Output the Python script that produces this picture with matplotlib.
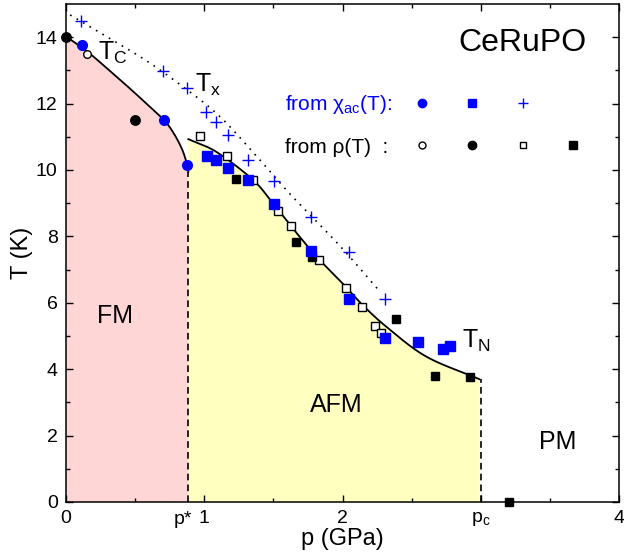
import numpy as np
import matplotlib.pyplot as plt

plt.rcParams['font.family'] = ['Liberation Sans', 'DejaVu Sans']
plt.rcParams['mathtext.fontset'] = 'custom'
plt.rcParams['mathtext.rm'] = 'Liberation Sans'
plt.rcParams['mathtext.it'] = 'Liberation Sans'

# T_C from chi_ac (blue circles)
tc_chi_p = [0.113, 0.71, 0.874]
tc_chi_T = [13.77, 11.51, 10.16]
# T_C from rho (open circles, filled circles)
tc_rho_open_p = [0.154]
tc_rho_open_T = [13.5]
tc_rho_full_p = [0.0, 0.50]
tc_rho_full_T = [14.02, 11.51]

# T_N from chi_ac (blue squares)
tn_chi_p = [1.017, 1.084, 1.173, 1.313, 1.503, 1.775, 2.045, 2.305, 2.546, 2.726, 2.775]
tn_chi_T = [10.43, 10.30, 10.07, 9.69, 8.98, 7.57, 6.11, 4.95, 4.81, 4.60, 4.71]
# T_N from rho (open squares, filled squares)
tn_rho_open_p = [0.970, 1.161, 1.353, 1.532, 1.626, 1.830, 2.028, 2.144, 2.235, 2.276]
tn_rho_open_T = [11.01, 10.41, 9.69, 8.78, 8.30, 7.29, 6.46, 5.88, 5.30, 5.10]
tn_rho_full_p = [1.233, 1.664, 1.782, 2.384, 2.666, 2.919, 3.203]
tn_rho_full_T = [9.73, 7.84, 7.37, 5.50, 3.80, 3.78, 0.0]

# T_x from chi_ac (blue plus)
tx_p = [0.108, 0.703, 0.872, 1.012, 1.084, 1.173, 1.313, 1.503, 1.775, 2.045, 2.305]
tx_T = [14.49, 12.99, 12.46, 11.74, 11.44, 11.04, 10.30, 9.67, 8.57, 7.54, 6.11]

# guide line vertices
tc_line_p = [0, 0.15, 0.3, 0.45, 0.6, 0.71, 0.78, 0.84, 0.875, 0.885]
tc_line_T = [14.02, 13.58, 13.05, 12.5, 11.93, 11.5, 11.1, 10.62, 10.18, 9.95]
tn_line_p = [0.885, 1.09, 1.353, 1.5, 1.69, 1.835, 2.0, 2.144, 2.317, 2.606, 2.99]
tn_line_T = [10.93, 10.54, 9.70, 8.98, 7.99, 7.29, 6.59, 5.94, 5.28, 4.38, 3.70]
tx_line_p = [0.03, 0.3, 0.56, 0.8, 1.09, 1.35, 1.62, 1.98, 2.27]
tx_line_T = [14.67, 14.0, 13.35, 12.65, 11.7, 10.55, 9.28, 7.72, 6.34]

p_star = 0.885
p_c = 3.0


def smooth(xs, ys, n=20):
    # Catmull-Rom curve through the vertices
    P = np.column_stack([xs, ys]).astype(float)
    P = np.vstack([2 * P[0] - P[1], P, 2 * P[-1] - P[-2]])
    t = np.linspace(0, 1, n, endpoint=False)[:, None]
    segs = []
    for i in range(1, len(P) - 2):
        p0, p1, p2, p3 = P[i - 1], P[i], P[i + 1], P[i + 2]
        segs.append(0.5 * (2 * p1 + (-p0 + p2) * t
                           + (2 * p0 - 5 * p1 + 4 * p2 - p3) * t ** 2
                           + (-p0 + 3 * p1 - 3 * p2 + p3) * t ** 3))
    segs.append(P[-2][None])
    c = np.vstack(segs)
    return c[:, 0], c[:, 1]


fig = plt.figure(figsize=(6.24, 5.6), dpi=100)
ax = fig.add_axes([66 / 624, 58 / 560, 553 / 624, 498 / 560])

tc_x, tc_y = smooth(tc_line_p, tc_line_T)
tn_x, tn_y = smooth(tn_line_p, tn_line_T)
tx_x, tx_y = smooth(tx_line_p, tx_line_T)

pink = '#FFD6D6'
yellow = '#FFFFC0'
ax.fill(np.r_[tc_x, tc_x[-1], tc_x[0]], np.r_[tc_y, 0, 0], color=pink, lw=0, zorder=0)
ax.fill(np.r_[tn_x, tn_x[-1], tn_x[0]], np.r_[tn_y, 0, 0], color=yellow, lw=0, zorder=0)

ax.plot(tc_x, tc_y, color='black', lw=1.3, zorder=2)
ax.plot(tn_x, tn_y, color='black', lw=1.3, zorder=2)
ax.plot(tx_x, tx_y, color='black', lw=1.2, ls=(0, (1, 3.5)), zorder=2)
ax.vlines(p_star, 0, tc_line_T[-1], colors='black', lw=1.2, linestyles=(0, (4, 2.5)), zorder=2)
ax.vlines(p_c, 0, tn_line_T[-1], colors='black', lw=1.2, linestyles=(0, (4, 2.5)), zorder=2)

kw = dict(ls='none', clip_on=False, zorder=3)
ax.plot(tn_rho_open_p, tn_rho_open_T, 's', ms=5.5, mfc='white', mec='black', mew=1, **kw)
ax.plot(tn_rho_full_p, tn_rho_full_T, 's', ms=6, color='black', **kw)
ax.plot(tn_chi_p, tn_chi_T, 's', ms=6.5, color='blue', **kw)
ax.plot(tc_rho_open_p, tc_rho_open_T, 'o', ms=5.5, mfc='white', mec='black', mew=1, **kw)
ax.plot(tc_rho_full_p, tc_rho_full_T, 'o', ms=6.8, color='black', **kw)
ax.plot(tc_chi_p, tc_chi_T, 'o', ms=7, color='blue', **kw)
ax.plot(tx_p, tx_T, '+', ms=8, mew=1, color='blue', **kw)

# legend-like rows
ax.text(1.582, 11.81, 'from χ$_{\\rm ac}$(T):', color='blue', fontsize=15)
ax.plot([2.577], [12.01], 'o', ms=6, color='blue', **kw)
ax.plot([2.938], [12.01], 's', ms=5.5, color='blue', **kw)
ax.plot([3.309], [12.01], '+', ms=7, mew=1, color='blue', **kw)
ax.text(1.582, 10.5, 'from ρ(T)  :', color='black', fontsize=15)
ax.plot([2.577], [10.76], 'o', ms=5, mfc='white', mec='black', mew=1, **kw)
ax.plot([2.938], [10.76], 'o', ms=6, color='black', **kw)
ax.plot([3.304], [10.76], 's', ms=5, mfc='white', mec='black', mew=1, **kw)
ax.plot([3.67], [10.76], 's', ms=5.5, color='black', **kw)

ax.text(3.30, 13.57, 'CeRuPO', fontsize=23, ha='center')
ax.text(0.231, 13.32, 'T$_{\\rm C}$', fontsize=18)
ax.text(0.932, 12.36, 'T$_{\\rm x}$', fontsize=18)
ax.text(2.864, 4.63, 'T$_{\\rm N}$', fontsize=18)
ax.text(0.358, 5.38, 'FM', fontsize=18, ha='center')
ax.text(1.952, 2.70, 'AFM', fontsize=18, ha='center')
ax.text(3.553, 1.59, 'PM', fontsize=18, ha='center')

ax.set_xlim(0, 4)
ax.set_ylim(0, 15)
ax.set_xticks([0, 1, 2, 3, 4])
ax.set_xticklabels(['0', '1', '2', 'p$_{\\rm c}$', '4'])
ax.set_xticks(np.arange(0.5, 4, 1.0), minor=True)
ax.set_yticks(np.arange(0, 15, 2))
ax.set_yticks(np.arange(1, 15, 2), minor=True)
ax.text(p_star - 0.04, -0.018, 'p*', transform=ax.get_xaxis_transform(),
        ha='center', va='top', fontsize=14)

ax.tick_params(which='both', direction='in', top=True, right=True, labelsize=14, pad=6, width=1)
ax.tick_params(which='major', length=5)
ax.tick_params(which='minor', length=2.7)
for s in ax.spines.values():
    s.set_linewidth(1.1)

ax.set_xlabel('p (GPa)', fontsize=17, labelpad=0)
ax.set_ylabel('T (K)', fontsize=17, labelpad=2)

fig.savefig('out.png', dpi=100)
